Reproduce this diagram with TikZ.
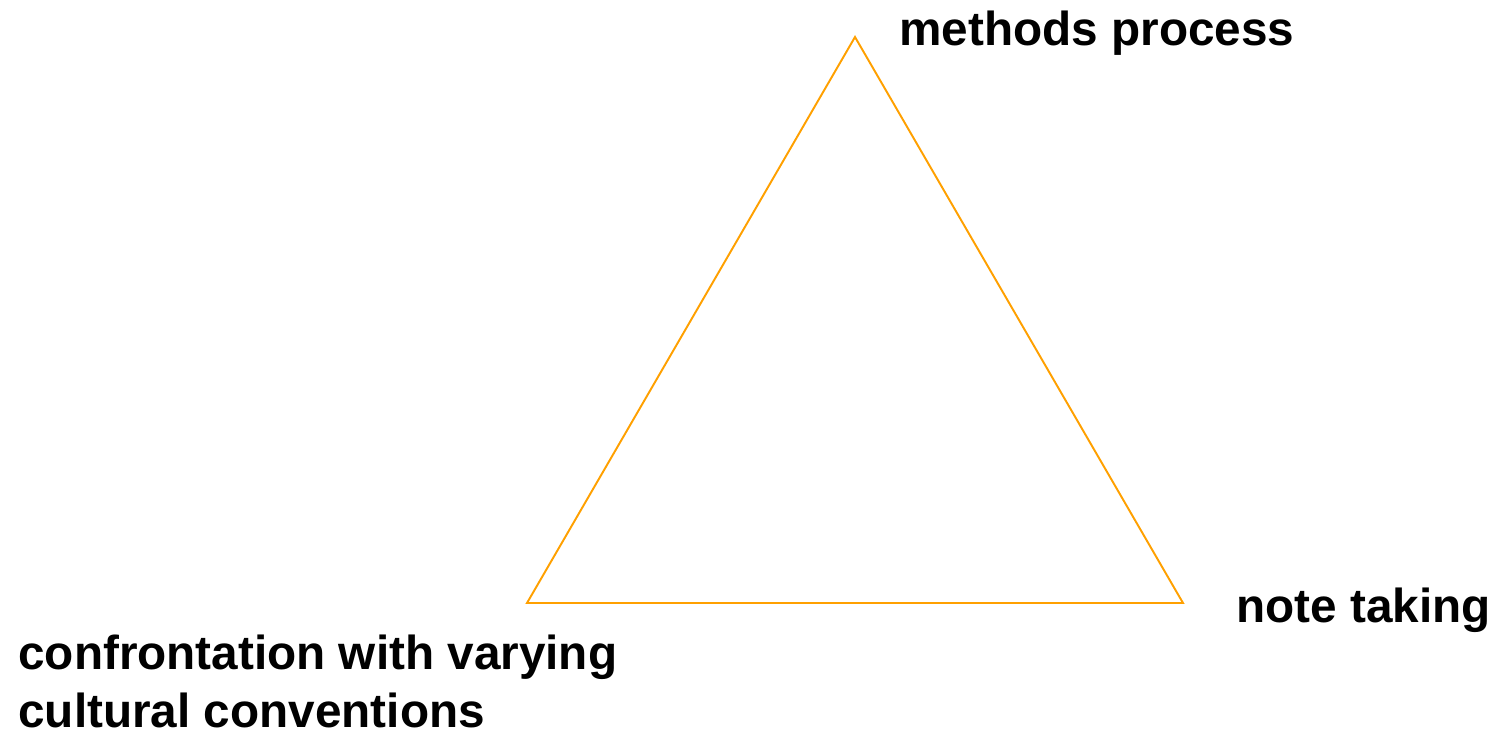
\documentclass[tikz,border=0pt]{standalone}
\usepackage{fontspec}
\setmainfont{Liberation Sans}
\usepackage{xcolor}
\definecolor{triorange}{HTML}{FFA000}

\begin{document}
\begin{tikzpicture}[x=0.02cm, y=-0.02cm,
    label/.style={inner sep=0pt, font=\fontsize{27.15}{32.6}\selectfont\bfseries, align=left}]

    % Fix the page to the size of the reference
    \useasboundingbox (0,0) rectangle (1492,731);

    % Corners of the triangle
    \coordinate (top) at (855,37);
    \coordinate (left) at (527,603);
    \coordinate (right) at (1183,603);

    % Draw the triangle
    \draw[triorange, line width=1.1pt, line join=miter] (top) -- (right) -- (left) -- cycle;

    % Labels at the corners
    \node[label, anchor=base west] (methods) at (899,45) {methods process};
    \node[label, anchor=base west] (notes) at (1236,622) {note taking};
    \node[label, anchor=north west] (confront) at (18,635) {confrontation with varying\\cultural conventions};
\end{tikzpicture}
\end{document}
